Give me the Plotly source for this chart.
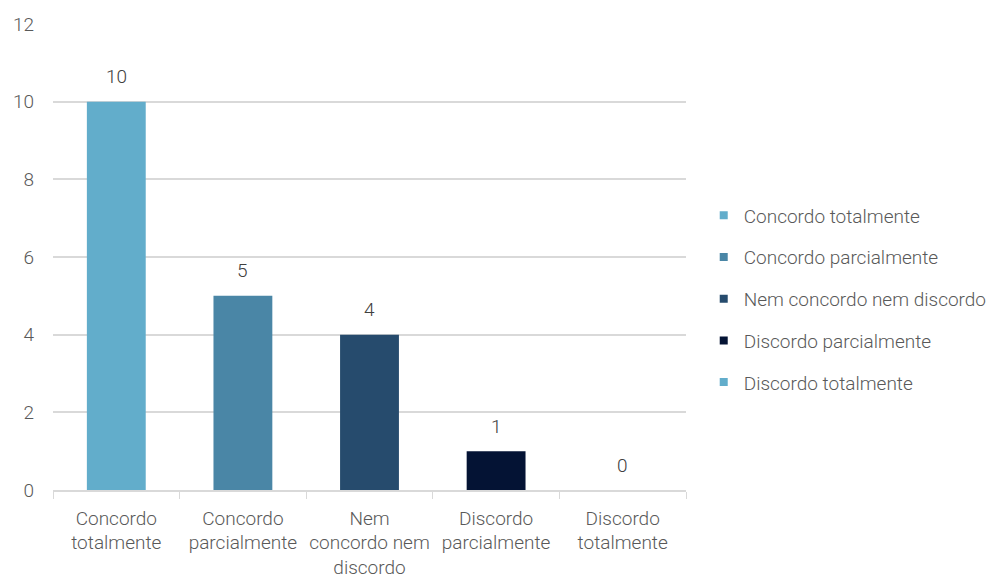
import plotly.graph_objects as go

categories = [
    "Concordo totalmente",
    "Concordo parcialmente",
    "Nem concordo nem discordo",
    "Discordo parcialmente",
    "Discordo totalmente",
]
tick_labels = [
    "Concordo<br>totalmente",
    "Concordo<br>parcialmente",
    "Nem<br>concordo nem<br>discordo",
    "Discordo<br>parcialmente",
    "Discordo<br>totalmente",
]
values = [10, 5, 4, 1, 0]
colors = ["#62adcb", "#4a86a6", "#264b6d", "#041334", "#62adcb"]

FONT = "Roboto"
TEXT = "#595959"
GRID = "#d9d9d9"
FS = 19

fig = go.Figure()
# bars (no legend entries of their own)
for cat, lab, val, col in zip(categories, tick_labels, values, colors):
    fig.add_trace(go.Bar(
        x=[lab],
        y=[val],
        name=cat,
        showlegend=False,
        marker=dict(color=col, line=dict(width=0)),
        width=0.465,
        hoverinfo="x+y",
    ))

# small square legend keys
for cat, col in zip(categories, colors):
    fig.add_trace(go.Scatter(
        x=[None], y=[None],
        mode="markers",
        name=cat,
        legendgroup=cat,
        marker=dict(symbol="square", size=8, color=col),
    ))

# value labels above each bar
for lab, val in zip(tick_labels, values):
    fig.add_annotation(
        x=lab, y=val, text=str(val),
        showarrow=False, yanchor="middle", yshift=25,
        font=dict(family=FONT, size=FS, color="#404040", weight=300),
    )

fig.update_layout(
    width=998,
    height=584,
    margin=dict(l=53, r=312, t=24, b=94, autoexpand=False),
    paper_bgcolor="white",
    plot_bgcolor="white",
    barmode="overlay",
    font=dict(family=FONT, size=FS, color=TEXT, weight=300),
    showlegend=True,
    legend=dict(
        x=1.028, xanchor="left",
        y=0.41, yanchor="middle",
        font=dict(family=FONT, size=FS, color=TEXT, weight=300),
        tracegroupgap=14,
        itemwidth=30,
    ),
    xaxis=dict(
        categoryorder="array",
        categoryarray=tick_labels,
        showline=True,
        linecolor=GRID,
        linewidth=1.5,
        ticks="outside",
        tickson="boundaries",
        ticklen=7,
        tickcolor=GRID,
        showgrid=False,
        tickangle=0,
        automargin=False,
        ticklabelstandoff=10,
        tickfont=dict(family=FONT, size=FS, color=TEXT, weight=300),
    ),
    yaxis=dict(
        range=[0, 12],
        dtick=2,
        showgrid=True,
        gridcolor=GRID,
        gridwidth=1.5,
        zeroline=False,
        showline=False,
        ticks="",
        automargin=False,
        ticklabelstandoff=18,
        tickfont=dict(family=FONT, size=FS, color=TEXT, weight=300),
    ),
)

fig.write_html("out.html")
